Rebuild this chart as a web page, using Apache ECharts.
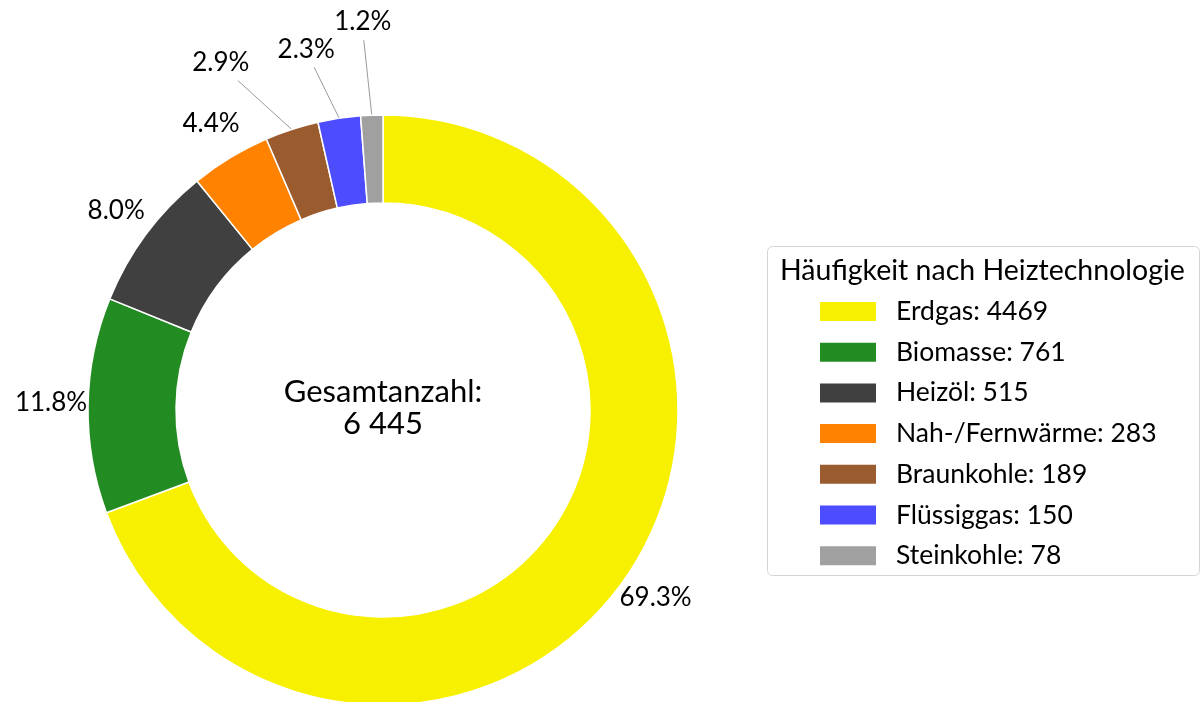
<!DOCTYPE html>
<html>
<head>
<meta charset="utf-8">
<title>Häufigkeit nach Heiztechnologie</title>
<script src="https://cdn.jsdelivr.net/npm/echarts@6/dist/echarts.min.js"></script>
<style>
  html, body { margin: 0; padding: 0; background: #fff; }
  #main { width: 1200px; height: 702px; }
</style>
</head>
<body>
<div id="main"></div>
<script>
// Daten
var categories = ['Erdgas', 'Biomasse', 'Heizöl', 'Nah-/Fernwärme', 'Braunkohle', 'Flüssiggas', 'Steinkohle'];
var counts = [4469, 761, 515, 283, 189, 150, 78];
var colors = ['#F7F000', '#228B22', '#404040', '#FF8200', '#9A5B2F', '#4D4DFF', '#A0A0A0'];

var FONT = 'Lato';
var total = counts.reduce(function (a, b) { return a + b; }, 0);

// Zahl mit Leerzeichen als Tausendertrenner
function fmtThousands(n) {
  return String(n).replace(/\B(?=(\d{3})+(?!\d))/g, ' ');
}

// Führungslinien für die kleinen Segmente: Vektor vom Ring zum Linienende,
// und Verschiebung der Beschriftung relativ zum Linienende
var leaders = {
  'Braunkohle': { line: [-54, -49], text: [-17, -18] },
  'Flüssiggas': { line: [-25, -51], text: [-8, -18] },
  'Steinkohle': { line: [-8, -75], text: [-1, -19] }
};

var myChart = echarts.init(document.getElementById('main'));

myChart.setOption({
  animation: false,
  graphic: [
    {
      type: 'rect',
      left: 767, top: 246,
      shape: { width: 432, height: 329, r: 5 },
      style: { fill: 'rgba(0,0,0,0)', stroke: '#d4d4d4', lineWidth: 1 },
      silent: true
    },
    {
      type: 'text',
      x: 780, y: 271,
      style: {
        text: 'Häufigkeit nach Heiztechnologie',
        fontFamily: FONT, fontSize: 28.5, fill: '#000',
        textAlign: 'left', textVerticalAlign: 'middle'
      },
      silent: true
    },
    {
      type: 'text',
      x: 383, y: 408,
      style: {
        text: 'Gesamtanzahl:\n' + fmtThousands(total),
        fontFamily: FONT, fontSize: 31, lineHeight: 32, fill: '#000',
        textAlign: 'center', textVerticalAlign: 'middle'
      },
      silent: true
    }
  ],
  legend: {
    orient: 'vertical',
    left: 815,
    top: 293,
    icon: 'rect',
    itemWidth: 56,
    itemHeight: 19,
    itemGap: 13.7,
    selectedMode: false,
    itemStyle: { borderWidth: 0 },
    textStyle: {
      fontFamily: FONT, fontSize: 26.5, color: '#000',
      lineHeight: 26, padding: [0, 0, 0, 15]
    },
    formatter: function (name) {
      return name + ': ' + counts[categories.indexOf(name)];
    },
    data: categories
  },
  series: [
    {
      type: 'pie',
      center: [383, 410],
      radius: [207, 295],
      startAngle: 90,
      clockwise: true,
      avoidLabelOverlap: false,
      emphasis: { disabled: true },
      itemStyle: { borderColor: '#fff', borderWidth: 1.5 },
      label: {
        show: true,
        position: 'outside',
        fontFamily: FONT,
        fontSize: 26,
        color: '#000',
        formatter: function (p) {
          return (p.value / total * 100).toFixed(1) + '%';
        }
      },
      labelLine: {
        show: true,
        length: 37,
        length2: 0,
        lineStyle: { color: '#999', width: 1, opacity: 0 }
      },
      labelLayout: function (p) {
        var pts = p.labelLinePoints;
        if (!pts) return {};
        var lead = leaders[categories[p.dataIndex]];
        if (!lead) {
          return { x: pts[1][0], y: pts[1][1] - 2, align: 'center', verticalAlign: 'middle' };
        }
        var s = pts[0];
        var e = [s[0] + lead.line[0], s[1] + lead.line[1]];
        var m = [(s[0] + e[0]) / 2, (s[1] + e[1]) / 2];
        return {
          x: e[0] + lead.text[0],
          y: e[1] + lead.text[1],
          align: 'center',
          verticalAlign: 'middle',
          labelLinePoints: [s, m, e]
        };
      },
      data: categories.map(function (name, i) {
        var item = { name: name, value: counts[i], itemStyle: { color: colors[i] } };
        if (leaders[name]) {
          item.labelLine = { lineStyle: { opacity: 1 } };
        }
        return item;
      })
    }
  ]
});
</script>
</body>
</html>
